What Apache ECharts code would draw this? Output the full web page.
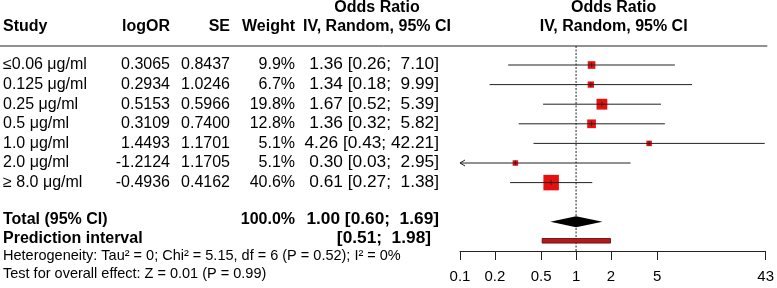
<!DOCTYPE html>
<html><head><meta charset="utf-8">
<script src="https://cdn.jsdelivr.net/npm/echarts@6/dist/echarts.min.js"></script>
<style>html,body{margin:0;padding:0;background:#fff}#c{width:777px;height:288px}</style>
</head><body><div id="c"></div>
<script>
// ---- data ----
const studies = ['≤0.06 μg/ml', '0.125 μg/ml', '0.25 μg/ml', '0.5 μg/ml', '1.0 μg/ml', '2.0 μg/ml', '≥ 8.0 μg/ml'];
const logOR = [0.3065, 0.2934, 0.5153, 0.3109, 1.4493, -1.2124, -0.4936];
const se = [0.8437, 1.0246, 0.5966, 0.7400, 1.1701, 1.1705, 0.4162];
const weight = [9.9, 6.7, 19.8, 12.8, 5.1, 5.1, 40.6];
const oddsRatio = [1.36, 1.34, 1.67, 1.36, 4.26, 0.30, 0.61];
const ciLower = [0.26, 0.18, 0.52, 0.32, 0.43, 0.03, 0.27];
const ciUpper = [7.10, 9.99, 5.39, 5.82, 42.21, 2.95, 1.38];
const totalOR = 1.00, totalLower = 0.60, totalUpper = 1.69, totalWeight = 100.0;
const predLower = 0.51, predUpper = 1.98;
const tickValues = [0.1, 0.2, 0.5, 1, 2, 5, 43];
const tickLabels = ['0.1', '0.2', '0.5', '1', '2', '5', '43'];
const heterogeneityText = 'Heterogeneity: Tau² = 0; Chi² = 5.15, df = 6 (P = 0.52); I² = 0%';
const overallText = 'Test for overall effect: Z = 0.01 (P = 0.99)';

// ---- layout ----
const FONT = '"Liberation Sans", Arial, Helvetica, sans-serif';
const TOP = 45.4, ROWH = 19.6, AXIS_Y = 251, PLOT_L = 460, PLOT_R = 767.3;
const XMIN = 0.1, XMAX = 43;
const yMax = (AXIS_Y - TOP) / ROWH;
const rowY = r => TOP + r * ROWH;
const fmt2 = v => v.toFixed(2);
const pad = (s, n) => (' '.repeat(Math.max(0, n - s.length))) + s;
const ciStr = (l, u) => '[' + fmt2(l) + '; ' + pad(fmt2(u), 5) + ']';

const chart = echarts.init(document.getElementById('c'), null, {renderer: 'canvas'});

const texts = [];
function txt(x, y, s, align, size, bold, sx) {
  texts.push({type: 'text', x: x, y: y, scaleX: sx || 1, silent: true, style: {
    text: s, font: (bold ? 'bold ' : '') + size + 'px ' + FONT, fill: '#000',
    textAlign: align, textVerticalAlign: 'middle', align: align, verticalAlign: 'middle', whiteSpace: 'pre'}});
}
const FS = 16, CI_SX = 1.08;
const C_STUDY = 3, C_LOG = 170, C_SE = 230, C_W = 295, C_OR = 439, C_ORH = 377, C_PLOT = (PLOT_L + PLOT_R) / 2;
// headers
txt(C_ORH, 8, 'Odds Ratio', 'center', FS, true);
txt(C_PLOT, 8, 'Odds Ratio', 'center', FS, true);
txt(C_STUDY, 27, 'Study', 'left', FS, true);
txt(C_LOG, 27, 'logOR', 'right', FS, true);
txt(C_SE, 27, 'SE', 'right', FS, true);
txt(C_W, 27, 'Weight', 'right', FS, true);
txt(C_ORH, 27, 'IV, Random, 95% CI', 'center', FS, true);
txt(C_PLOT, 27, 'IV, Random, 95% CI', 'center', FS, true);
// rows
studies.forEach((s, i) => {
  const y = rowY(i + 1);
  txt(C_STUDY, y, s, 'left', FS, false);
  txt(C_LOG, y, logOR[i].toFixed(4), 'right', FS, false);
  txt(C_SE, y, se[i].toFixed(4), 'right', FS, false);
  txt(C_W, y, weight[i].toFixed(1) + '%', 'right', FS, false);
  txt(C_OR, y, fmt2(oddsRatio[i]) + ' ' + ciStr(ciLower[i], ciUpper[i]), 'right', FS, false, CI_SX);
});
txt(C_STUDY, 220, 'Total (95% CI)', 'left', FS, true);
txt(C_W, 220, totalWeight.toFixed(1) + '%', 'right', FS, true);
txt(C_OR, 220, fmt2(totalOR) + ' ' + ciStr(totalLower, totalUpper), 'right', FS, true, CI_SX);
txt(C_STUDY, 239, 'Prediction interval', 'left', FS, true);
txt(431, 239, ciStr(predLower, predUpper), 'right', FS, true, CI_SX);
txt(C_STUDY, 256, heterogeneityText, 'left', 14.5, false);
txt(C_STUDY, 274, overallText, 'left', 14.5, false);
// header rule
texts.push({type: 'line', silent: true, shape: {x1: 0, y1: 46, x2: PLOT_R, y2: 46}, style: {stroke: '#222', lineWidth: 1}});

const studyData = studies.map((s, i) => [oddsRatio[i], i + 1, ciLower[i], ciUpper[i], weight[i]]);

chart.setOption({
  animation: false,
  backgroundColor: '#fff',
  grid: {left: PLOT_L, right: 777 - PLOT_R, top: TOP, bottom: 288 - AXIS_Y, containLabel: false},
  xAxis: {
    type: 'log', logBase: 10, min: XMIN, max: XMAX, position: 'bottom',
    axisLine: {show: true, onZero: false, lineStyle: {color: '#222', width: 1}},
    axisTick: {show: true, length: 9, inside: false, customValues: tickValues, lineStyle: {color: '#222'}},
    axisLabel: {show: true, customValues: tickValues, margin: 18, fontSize: 15, fontFamily: FONT, color: '#000',
      formatter: v => { const k = tickValues.findIndex(t => Math.abs(t - v) < 1e-6); return k >= 0 ? tickLabels[k] : ''; }},
    splitLine: {show: false}, minorTick: {show: false}
  },
  yAxis: {type: 'value', inverse: true, min: 0, max: yMax, show: false},
  graphic: {elements: texts},
  series: [
    {
      type: 'line', silent: true, symbol: 'none', z: 1,
      data: [[1, 0.03], [1, yMax]],
      lineStyle: {color: '#222', width: 1, type: [2, 1.5]}
    },
    {
      type: 'custom', silent: true, z: 3,
      data: studyData,
      renderItem: (params, api) => {
        const or = api.value(0), row = api.value(1), lo = api.value(2), hi = api.value(3), w = api.value(4);
        const c = api.coord([or, row]);
        const xl = api.coord([Math.max(lo, XMIN), row])[0];
        const xh = api.coord([Math.min(hi, XMAX), row])[0];
        const sz = 2.43 * Math.sqrt(w);
        const kids = [
          {type: 'rect', shape: {x: c[0] - sz / 2, y: c[1] - sz / 2, width: sz, height: sz}, style: {fill: '#e8100f'}},
          {type: 'line', shape: {x1: xl, y1: c[1], x2: xh, y2: c[1]}, style: {stroke: '#222', lineWidth: 1}},
          {type: 'line', shape: {x1: c[0], y1: c[1] - 2.5, x2: c[0], y2: c[1] + 2.5}, style: {stroke: '#222', lineWidth: 0.8}}
        ];
        if (lo < XMIN) kids.push({type: 'polyline', shape: {points: [[xl + 5, c[1] - 3], [xl, c[1]], [xl + 5, c[1] + 3]]}, style: {stroke: '#222', fill: null, lineWidth: 1}});
        if (hi > XMAX) kids.push({type: 'polyline', shape: {points: [[xh - 5, c[1] - 3], [xh, c[1]], [xh - 5, c[1] + 3]]}, style: {stroke: '#222', fill: null, lineWidth: 1}});
        return {type: 'group', children: kids};
      }
    },
    {
      type: 'custom', silent: true, z: 3,
      data: [[totalOR, 9, totalLower, totalUpper]],
      renderItem: (params, api) => {
        const c = api.coord([api.value(0), api.value(1)]);
        const xl = api.coord([api.value(2), api.value(1)])[0];
        const xh = api.coord([api.value(3), api.value(1)])[0];
        return {type: 'polygon', shape: {points: [[xl, c[1]], [c[0], c[1] - 5.5], [xh, c[1]], [c[0], c[1] + 5.5]]}, style: {fill: '#000'}};
      }
    },
    {
      type: 'custom', silent: true, z: 3,
      data: [[predLower, 9.97, predUpper]],
      renderItem: (params, api) => {
        const a = api.coord([api.value(0), api.value(1)]);
        const b = api.coord([api.value(2), api.value(1)]);
        return {type: 'rect', shape: {x: a[0], y: a[1] - 2.3, width: b[0] - a[0], height: 4.6}, style: {fill: '#b01c1c', stroke: '#5a0000', lineWidth: 0.8}};
      }
    }
  ]
});
</script></body></html>
